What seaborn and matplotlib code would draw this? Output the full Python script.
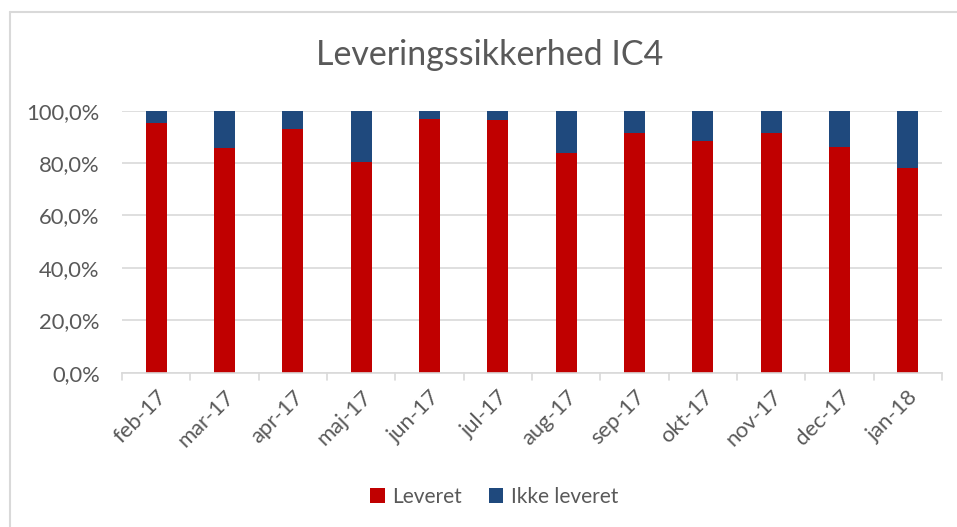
import matplotlib
matplotlib.use("Agg")
import matplotlib.pyplot as plt
import seaborn as sns
import pandas as pd
from matplotlib.lines import Line2D
from matplotlib.patches import Patch
from matplotlib.ticker import FuncFormatter

months = ["feb-17", "mar-17", "apr-17", "maj-17", "jun-17", "jul-17",
          "aug-17", "sep-17", "okt-17", "nov-17", "dec-17", "jan-18"]
leveret = [95.4, 85.9, 93.2, 80.5, 96.8, 96.5, 83.7, 91.3, 88.5, 91.3, 86.2, 78.2]
ikke_leveret = [100 - v for v in leveret]
series_names = ["Leveret", "Ikke leveret"]
colors = ["#C00000", "#1F497D"]
title = "Leveringssikkerhed IC4"

sns.set_theme(style="white")
plt.rcParams['font.family'] = ['Lato', 'DejaVu Sans']

df = pd.DataFrame({"month": months, "Leveret": leveret, "Ikke leveret": ikke_leveret})
df["total"] = df["Leveret"] + df["Ikke leveret"]

fig = plt.figure(figsize=(9.57, 5.27), dpi=100)
ax = fig.add_axes([122/957, 1 - 372.7/527, (942-122)/957, (372.7-110.7)/527])

sns.barplot(data=df, x="month", y="total", color=colors[1], width=0.31, ax=ax,
            saturation=1, edgecolor="none")
sns.barplot(data=df, x="month", y="Leveret", color=colors[0], width=0.31, ax=ax,
            saturation=1, edgecolor="none")

ax.set_xlim(-0.5, len(months) - 0.5)
ax.set_ylim(0, 100)
ax.set_yticks([0, 20, 40, 60, 80, 100])
ax.yaxis.set_major_formatter(FuncFormatter(lambda v, p: f"{v:.1f}%".replace(".", ",")))
ax.grid(axis="y", color="#D9D9D9", linewidth=1.2)
ax.set_axisbelow(True)
for s in ["top", "right", "left"]:
    ax.spines[s].set_visible(False)
ax.spines["bottom"].set_color("#D9D9D9")
ax.spines["bottom"].set_linewidth(1.2)
ax.set_xlabel("")
ax.set_ylabel("")
ax.tick_params(axis="y", length=0, labelsize=15.8, labelcolor="#595959", pad=16)
ax.tick_params(axis="x", length=0, labelsize=15.8, labelcolor="#595959", pad=10)
for lab in ax.get_xticklabels():
    lab.set_rotation(45)
    lab.set_ha("right")
    lab.set_rotation_mode("anchor")
# boundary tick marks
for b in range(len(months) + 1):
    ax.plot([b - 0.5, b - 0.5], [0, -2.8], color="#D9D9D9", lw=1.2, clip_on=False)

fig.text(490/957, 1 - 55/527, title, ha="center", va="center", fontsize=24.5, color="#595959")

handles = [Patch(facecolor=c, edgecolor="none") for c in colors]
fig.legend(handles, series_names, loc="center", bbox_to_anchor=(494/957, 1 - 497/527),
           ncol=2, frameon=False, fontsize=15, labelcolor="#595959",
           handlelength=0.7, handleheight=0.7, handletextpad=0.35, columnspacing=1.3)

# outer border (left and top visible)
fig.add_artist(Line2D([10/957, 10/957], [0, 1 - 12/527], transform=fig.transFigure, color="#D9D9D9", lw=1.5))
fig.add_artist(Line2D([10/957, 1], [1 - 12/527, 1 - 12/527], transform=fig.transFigure, color="#D9D9D9", lw=1.5))

fig.savefig("out.png", dpi=100)
